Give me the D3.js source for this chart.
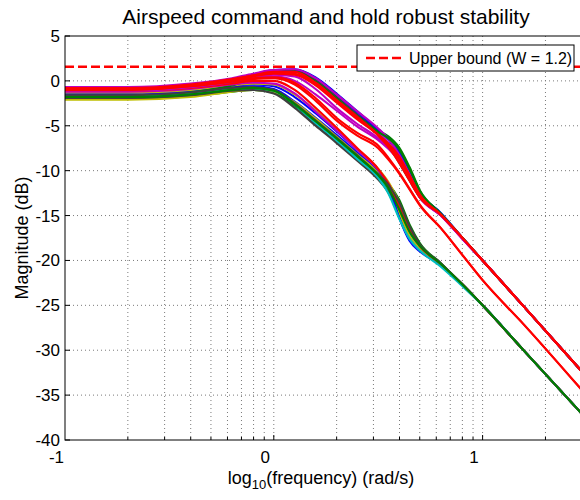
<!DOCTYPE html>
<html>
<head>
<meta charset="utf-8">
<script src="https://cdn.jsdelivr.net/npm/d3@7"></script>
<style>
  body { margin: 0; background: #fff; }
  svg text { font-family: "Liberation Sans", Arial, sans-serif; fill: #000; }
</style>
</head>
<body>
<div id="viz"></div>
<script>
// log10(frequency) sample points shared by every curve
var logFreq = [-1, -0.7, -0.4, -0.2, -0.1, 0, 0.1, 0.2, 0.3, 0.4, 0.5, 0.55, 0.6, 0.65, 0.7, 0.8, 0.9, 1.0, 1.2, 1.5];

// upper family (peaks near +1.3 dB)
var upperCurves = [
  [-1.3, -1.3, -0.8, 0.0, 0.7, 1.2, 1.3, 0.4, -1.4, -3.4, -5.4, -6.6, -8.2, -10.3, -12.5, -14.7, -17.4, -20.0, -25.2, -33.0],
  [-0.7, -0.7, -0.3, 0.3, 0.8, 1.2, 1.2, 0.2, -1.6, -3.6, -5.6, -7.0, -8.9, -11.0, -13.0, -15.0, -17.5, -20.0, -25.2, -33.0],
  [-1.5, -1.5, -1.0, -0.3, 0.4, 1.0, 1.2, 0.1, -1.8, -3.8, -5.5, -6.2, -7.4, -9.6, -12.2, -14.8, -17.4, -20.0, -25.2, -33.0],
  [-1.2, -1.2, -0.8, -0.1, 0.5, 1.0, 1.1, -0.1, -2.0, -4.0, -5.9, -7.2, -9.0, -11.0, -12.9, -14.8, -17.4, -20.0, -25.2, -33.0],
  [-1.6, -1.6, -1.1, -0.4, 0.3, 0.9, 1.2, 0.3, -1.5, -3.5, -5.4, -6.4, -7.9, -10.0, -12.4, -14.8, -17.4, -20.0, -25.2, -33.0],
  [-1.4, -1.4, -0.9, -0.2, 0.5, 1.0, 1.1, 0.0, -1.9, -3.9, -5.9, -7.3, -9.1, -11.1, -13.0, -14.9, -17.4, -20.0, -25.2, -33.0],
  [-0.8, -0.8, -0.4, 0.2, 0.7, 1.2, 1.3, 0.3, -1.5, -3.4, -5.3, -6.5, -8.2, -10.4, -12.7, -14.9, -17.5, -20.0, -25.2, -33.0],
  [-1.8, -1.8, -1.3, -0.5, 0.2, 0.8, 1.0, -0.1, -2.0, -4.0, -5.7, -6.4, -7.6, -9.8, -12.3, -14.8, -17.4, -20.0, -25.2, -33.0],
  [-0.9, -0.9, -0.5, 0.0, 0.3, 0.5, 0.0, -1.5, -3.3, -5.1, -6.6, -7.6, -8.9, -10.8, -12.9, -15.0, -17.5, -20.0, -25.2, -33.0],
  [-1.1, -1.1, -0.7, -0.1, 0.4, 0.7, 0.5, -0.9, -3.0, -4.8, -6.4, -7.5, -8.9, -10.9, -13.0, -15.0, -17.5, -20.0, -25.2, -33.0],
  [-0.9, -0.9, -0.5, 0.1, 0.6, 1.0, 1.0, -0.2, -2.1, -4.0, -6.0, -7.2, -8.7, -10.7, -12.8, -14.9, -17.4, -20.0, -25.2, -33.0],
  [-1.0, -1.0, -0.6, 0.0, 0.5, 0.8, 0.7, -0.5, -2.4, -4.3, -6.1, -7.4, -9.1, -11.1, -13.0, -14.9, -17.4, -20.0, -25.2, -33.0],
  [-0.8, -0.8, -0.4, 0.2, 0.6, 0.9, 0.8, -0.3, -2.2, -4.1, -6.0, -7.0, -8.4, -10.5, -12.7, -14.9, -17.4, -20.0, -25.2, -33.0]
];
var upperColors = ["b", "m", "g", "c", "b", "k", "m", "g", "m", "m", "r", "r", "r"];

// middle pair of red curves
var middleCurves = [
  [-1.0, -1.0, -0.6, -0.1, 0.2, 0.3, -0.4, -2.2, -4.4, -6.1, -7.5, -8.8, -10.3, -12.1, -13.9, -16.4, -19.3, -22.2, -27.2, -35.1],
  [-0.9, -0.9, -0.5, 0.0, 0.3, 0.4, -0.2, -1.9, -4.1, -5.8, -7.2, -8.6, -10.2, -12.0, -13.8, -16.4, -19.3, -22.2, -27.2, -35.1]
];
var middleColors = ["r", "r"];

// lower family (peaks near -0.8 dB, second drop near 0.6)
var lowerCurves = [
  [-1.8, -1.8, -1.5, -1.0, -0.9, -1.3, -2.9, -4.8, -6.7, -8.7, -10.8, -12.5, -15.0, -17.4, -18.8, -20.5, -22.6, -25.0, -30.1, -37.7],
  [-1.6, -1.6, -1.3, -0.9, -0.8, -1.2, -2.8, -4.7, -6.6, -8.6, -10.7, -12.2, -14.4, -16.9, -18.6, -20.6, -22.7, -25.0, -30.1, -37.7],
  [-1.5, -1.5, -1.2, -0.7, -0.6, -0.9, -2.3, -4.1, -6.0, -8.0, -10.1, -11.9, -15.1, -17.7, -18.9, -20.4, -22.6, -25.0, -30.1, -37.7],
  [-2.0, -2.0, -1.7, -1.2, -1.0, -1.3, -2.7, -4.5, -6.4, -8.4, -10.4, -11.5, -13.2, -16.0, -18.1, -20.3, -22.6, -25.0, -30.1, -37.7],
  [-2.1, -2.1, -1.8, -1.2, -1.0, -1.2, -2.4, -4.2, -6.2, -8.2, -10.3, -11.9, -14.6, -17.3, -18.7, -20.5, -22.6, -25.0, -30.1, -37.7],
  [-1.9, -1.9, -1.6, -1.1, -1.0, -1.4, -3.0, -5.0, -6.9, -8.9, -11.0, -12.4, -14.2, -16.6, -18.4, -20.4, -22.6, -25.0, -30.1, -37.7],
  [-1.4, -1.4, -1.1, -0.6, -0.4, -0.6, -1.8, -3.6, -5.6, -7.7, -9.9, -11.7, -15.2, -17.8, -19.0, -20.5, -22.6, -25.0, -30.1, -37.7],
  [-1.3, -1.3, -1.0, -0.5, -0.3, -0.4, -1.5, -3.3, -5.4, -7.6, -9.8, -11.3, -13.6, -16.6, -18.5, -20.4, -22.6, -25.0, -30.1, -37.7],
  [-1.2, -1.2, -0.9, -0.4, -0.2, -0.3, -1.4, -3.4, -5.5, -7.7, -9.9, -11.5, -14.1, -16.7, -18.4, -20.4, -22.6, -25.0, -30.1, -37.7],
  [-1.1, -1.1, -0.8, -0.3, 0.0, 0.0, -1.0, -3.0, -5.2, -7.5, -9.8, -11.5, -14.0, -16.6, -18.4, -20.4, -22.6, -25.0, -30.1, -37.7],
  [-1.7, -1.7, -1.4, -0.9, -0.8, -1.1, -2.6, -4.6, -6.6, -8.7, -10.8, -12.6, -15.3, -17.6, -18.9, -20.7, -22.8, -25.0, -30.1, -37.7],
  [-1.6, -1.6, -1.3, -0.8, -0.7, -1.0, -2.5, -4.4, -6.3, -8.3, -10.4, -11.6, -13.5, -16.2, -18.2, -20.3, -22.6, -25.0, -30.1, -37.7],
  [-1.8, -1.8, -1.5, -1.0, -0.8, -1.1, -2.6, -4.5, -6.4, -8.4, -10.5, -12.0, -14.3, -16.8, -18.4, -20.4, -22.6, -25.0, -30.1, -37.7]
];
var lowerColors = ["k", "c", "b", "g", "y", "k", "b", "y", "m", "r", "c", "k", "g"];

var yTicks = [5, 0, -5, -10, -15, -20, -25, -30, -35, -40];
var xTickLabels = [-1, 0, 1];
var upperBound = 1.2;

var matlab = { b: "#0000ff", g: "#008000", r: "#ff0000", c: "#00bfbf", m: "#bf00bf", y: "#bfbf00", k: "#404040" };

var width = 580, height = 500,
    pL = 65, pR = 587, pT = 36, pB = 440;

var x = d3.scaleLinear().domain([-1, 1.5]).range([pL, pR]),
    y = d3.scaleLinear().domain([-40, 5]).range([pB, pT]);

var svg = d3.select("#viz").append("svg")
  .attr("width", width).attr("height", height);

// log grid lines (1..9 per decade)
var gridX = [];
[-1, 0, 1].forEach(function(d) {
  for (var k = 1; k <= 9; k++) {
    var v = d + Math.log10(k);
    if (v > -1 && v < 1.5) gridX.push(v);
  }
});

svg.append("g").selectAll("line").data(gridX).join("line")
  .attr("x1", d => x(d)).attr("x2", d => x(d))
  .attr("y1", pT).attr("y2", pB)
  .attr("stroke", "#7a7a7a").attr("stroke-width", 1)
  .attr("stroke-dasharray", "1,3");

svg.append("g").selectAll("line").data(yTicks.slice(1, -1)).join("line")
  .attr("x1", pL).attr("x2", pR)
  .attr("y1", d => y(d)).attr("y2", d => y(d))
  .attr("stroke", "#7a7a7a").attr("stroke-width", 1)
  .attr("stroke-dasharray", "1,3");

// curves
var line = d3.line()
  .x(function(d, i) { return x(logFreq[i]); })
  .y(function(d) { return y(d); })
  .curve(d3.curveMonotoneX);

var order = [];
for (var i = 0; i < 13; i++) {
  order.push({ v: lowerCurves[i], c: lowerColors[i] });
  order.push({ v: upperCurves[i], c: upperColors[i] });
  if (i == 9) order.push({ v: middleCurves[0], c: middleColors[0] });
  if (i == 11) order.push({ v: middleCurves[1], c: middleColors[1] });
}

svg.append("g").selectAll("path").data(order).join("path")
  .attr("d", d => line(d.v))
  .attr("fill", "none")
  .attr("stroke", d => matlab[d.c])
  .attr("stroke-width", 2.1);

// upper bound
var ub = 20 * Math.log10(upperBound);
svg.append("line")
  .attr("x1", pL).attr("x2", pR)
  .attr("y1", y(ub)).attr("y2", y(ub))
  .attr("stroke", "#ff0000").attr("stroke-width", 2.5)
  .attr("stroke-dasharray", "9,4");

// axes box
svg.append("rect")
  .attr("x", pL).attr("y", pT)
  .attr("width", pR - pL).attr("height", pB - pT)
  .attr("fill", "none").attr("stroke", "#000").attr("stroke-width", 1);

// tick marks (inside)
svg.append("g").selectAll("line").data(gridX).join("line")
  .attr("x1", d => x(d)).attr("x2", d => x(d))
  .attr("y1", pB).attr("y2", d => pB - (Math.abs(d - Math.round(d)) < 1e-9 ? 5 : 3))
  .attr("stroke", "#000");
svg.append("g").selectAll("line").data(yTicks).join("line")
  .attr("x1", pL).attr("x2", pL + 5)
  .attr("y1", d => y(d)).attr("y2", d => y(d))
  .attr("stroke", "#000");

svg.append("g").selectAll("text").data(yTicks).join("text")
  .attr("x", pL - 5).attr("y", d => y(d) + 6)
  .attr("text-anchor", "end")
  .style("font-size", "17px")
  .text(d => d);

svg.append("g").selectAll("text").data(xTickLabels).join("text")
  .attr("x", d => x(d) - 8.5).attr("y", pB + 23)
  .attr("text-anchor", "middle")
  .style("font-size", "17px")
  .text(d => d);

// title and labels
svg.append("text")
  .attr("x", (pL + pR) / 2).attr("y", 24)
  .attr("text-anchor", "middle")
  .style("font-size", "21px")
  .text("Airspeed command and hold robust stability");

svg.append("text")
  .attr("transform", "translate(28," + ((pT + pB) / 2) + ") rotate(-90)")
  .attr("text-anchor", "middle")
  .style("font-size", "18px")
  .text("Magnitude (dB)");

var xl = svg.append("text")
  .attr("x", 321).attr("y", 484)
  .attr("text-anchor", "middle")
  .style("font-size", "18px");
xl.append("tspan").text("log");
xl.append("tspan").attr("dy", 5).style("font-size", "13px").text("10");
xl.append("tspan").attr("dy", -5).text("(frequency) (rad/s)");

// legend
var lg = svg.append("g").attr("transform", "translate(357,45)");
lg.append("rect").attr("width", 217).attr("height", 26)
  .attr("fill", "#fff").attr("stroke", "#000");
lg.append("line").attr("x1", 9).attr("x2", 48).attr("y1", 13).attr("y2", 13)
  .attr("stroke", "#ff0000").attr("stroke-width", 2.5).attr("stroke-dasharray", "9,4");
lg.append("text").attr("x", 52).attr("y", 19).style("font-size", "16px")
  .text("Upper bound (W = 1.2)");
</script>
</body>
</html>
